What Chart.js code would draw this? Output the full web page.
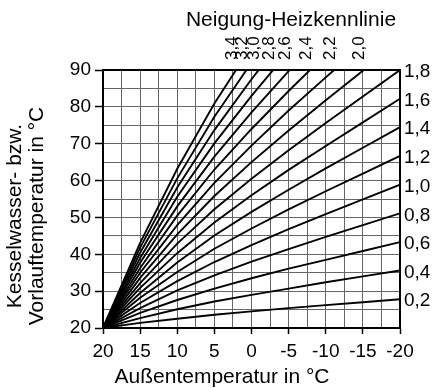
<!DOCTYPE html>
<html>
<head>
<meta charset="utf-8">
<script src="https://cdn.jsdelivr.net/npm/chart.js@4.4.1/dist/chart.umd.min.js"></script>
<style>
  html, body { margin: 0; padding: 0; background: #fff; }
  #wrap { width: 437px; height: 388px; }
</style>
</head>
<body>
<div id="wrap"><canvas id="chart" width="437" height="388"></canvas></div>
<script>
// outside temperature (°C) at which each curve was read
const outsideTemps = [20, 15, 10, 5, 0, -5, -10, -15, -20];

// flow temperature (°C) per curve
const flow_0_2 = [20, 21.4, 22.5, 23.6, 24.5, 25.4, 26.2, 27.0, 27.8];
const flow_0_4 = [20, 22.7, 25.1, 27.2, 29.0, 30.7, 32.4, 34.0, 35.6];
const flow_0_6 = [20, 24.1, 27.6, 30.7, 33.5, 36.1, 38.5, 40.9, 43.3];
const flow_0_8 = [20, 25.4, 30.2, 34.3, 38.0, 41.4, 44.7, 47.9, 51.1];
const flow_1_0 = [20, 26.8, 32.7, 37.9, 42.5, 46.8, 50.9, 54.9, 58.9];
const flow_1_2 = [20, 28.2, 35.2, 41.5, 47.0, 52.2, 57.1, 61.9, 66.7];
const flow_1_4 = [20, 29.5, 37.8, 45.1, 51.5, 57.5, 63.3, 68.9, 74.5];
const flow_1_6 = [20, 30.9, 40.3, 48.6, 56.0, 62.9, 69.4, 75.8, 82.2];
const flow_1_8 = [20, 32.2, 42.9, 52.2, 60.5, 68.2, 75.6, 82.8, 90.0];
const flow_2_0 = [20, 33.6, 45.4, 55.8, 65.0, 73.6, 81.8, 89.8, 97.8];
const flow_2_2 = [20, 35.0, 47.9, 59.4, 69.5, 79.0, 88.0, 96.8];
const flow_2_4 = [20, 36.3, 50.5, 63.0, 74.0, 84.3, 94.2];
const flow_2_6 = [20, 37.7, 53.0, 66.5, 78.5, 89.7, 100.3];
const flow_2_8 = [20, 39.0, 55.6, 70.1, 83.0, 95.0];
const flow_3_0 = [20, 40.4, 58.1, 73.7, 87.5, 100.4];
const flow_3_2 = [20, 41.8, 60.6, 77.3, 92.0];
const flow_3_4 = [20, 43.1, 63.2, 80.9, 96.5];

const curveLabels = ['0,2', '0,4', '0,6', '0,8', '1,0', '1,2', '1,4', '1,6', '1,8',
                     '2,0', '2,2', '2,4', '2,6', '2,8', '3,0', '3,2', '3,4'];
const curveValues = [flow_0_2, flow_0_4, flow_0_6, flow_0_8, flow_1_0, flow_1_2, flow_1_4, flow_1_6, flow_1_8,
                     flow_2_0, flow_2_2, flow_2_4, flow_2_6, flow_2_8, flow_3_0, flow_3_2, flow_3_4];

// curves from 2,0 upward leave the plot through the top and are labelled there
const rightLabelled = ['0,2', '0,4', '0,6', '0,8', '1,0', '1,2', '1,4', '1,6', '1,8'];

const FONT = '"Liberation Sans", Arial, sans-serif';

let datasets = curveValues.map((vals, i) => ({
  label: curveLabels[i],
  data: vals.map((v, j) => ({ x: outsideTemps[j], y: v })),
  borderColor: '#000',
  borderWidth: 1.9,
  pointRadius: 0,
  tension: 0,
  fill: false,
}));

let labelsPlugin = {
  id: 'curveLabels',
  afterDatasetsDraw(chart) {
    const { ctx, chartArea } = chart;
    // frame around the plot
    ctx.save();
    ctx.strokeStyle = '#000';
    ctx.lineWidth = 2;
    ctx.strokeRect(chartArea.left, chartArea.top, chartArea.right - chartArea.left, chartArea.bottom - chartArea.top);
    ctx.restore();
  },
  afterDraw(chart) {
    const { ctx, chartArea, scales } = chart;
    const xs = scales.x, ys = scales.y;
    ctx.save();
    ctx.fillStyle = '#000';

    // title above the plot
    ctx.font = '21px ' + FONT;
    ctx.textAlign = 'center';
    ctx.textBaseline = 'middle';
    ctx.fillText('Neigung-Heizkennlinie', 291, 20);

    // axis titles
    ctx.fillText('Außentemperatur in °C', 222, 377);
    ctx.save();
    ctx.translate(15, 216);
    ctx.rotate(-Math.PI / 2);
    ctx.fillText('Kesselwasser- bzw.', 0, 0);
    ctx.fillText('Vorlauftemperatur in °C', 0, 22);
    ctx.restore();

    // labels at the right end
    ctx.font = '19px ' + FONT;
    ctx.textAlign = 'left';
    chart.data.datasets.forEach((ds) => {
      if (!rightLabelled.includes(ds.label)) return;
      const last = ds.data[ds.data.length - 1];
      ctx.fillText(ds.label, chartArea.right + 4, ys.getPixelForValue(last.y) + 2);
    });

    // rotated labels where the steep curves hit the top
    ctx.font = '17px ' + FONT;
    const yMax = ys.max;
    chart.data.datasets.forEach((ds) => {
      if (rightLabelled.includes(ds.label)) return;
      const pts = ds.data;
      let xv = null;
      for (let k = 1; k < pts.length; k++) {
        if (pts[k].y >= yMax) {
          const t = (yMax - pts[k - 1].y) / (pts[k].y - pts[k - 1].y);
          xv = pts[k - 1].x + t * (pts[k].x - pts[k - 1].x);
          break;
        }
      }
      if (xv === null) return;
      const px = xs.getPixelForValue(xv) - 4;
      ctx.save();
      ctx.translate(px, chartArea.top - 10);
      ctx.rotate(-Math.PI / 2);
      ctx.textAlign = 'left';
      ctx.textBaseline = 'middle';
      ctx.fillText(ds.label, 0, 0);
      ctx.restore();
    });
    ctx.restore();
  }
};

new Chart(document.getElementById('chart'), {
  type: 'line',
  data: { datasets: datasets },
  options: {
    responsive: false,
    animation: false,
    devicePixelRatio: 1,
    layout: { padding: { left: 0, right: 37, top: 70, bottom: 0 } },
    plugins: {
      legend: { display: false },
      tooltip: { enabled: false },
    },
    scales: {
      x: {
        type: 'linear',
        reverse: true,
        min: -20,
        max: 20,
        afterFit(scale) { scale.height = 60; },
        ticks: {
          stepSize: 2.5,
          autoSkip: false,
          maxRotation: 0,
          padding: 6,
          color: '#000',
          font: { family: FONT, size: 19 },
          callback: (v) => (v % 5 === 0 ? String(v) : ''),
        },
        grid: {
          color: '#666',
          lineWidth: 1,
          tickLength: 6,
          tickColor: (c) => (c.tick && c.tick.value % 5 === 0 ? '#000' : 'rgba(0,0,0,0)'),
          tickWidth: 1.5,
        },
        border: { color: '#000', width: 2 },
      },
      y: {
        min: 20,
        max: 90,
        afterFit(scale) { scale.width = 103; },
        ticks: {
          stepSize: 5,
          autoSkip: false,
          padding: 4,
          color: '#000',
          font: { family: FONT, size: 19 },
          callback: (v) => (v % 10 === 0 ? String(v) : ''),
        },
        grid: {
          color: '#666',
          lineWidth: 1,
          tickLength: 8,
          tickColor: (c) => (c.tick && c.tick.value % 10 === 0 ? '#000' : 'rgba(0,0,0,0)'),
          tickWidth: 1.5,
        },
        border: { color: '#000', width: 2 },
      },
    },
  },
  plugins: [labelsPlugin],
});
</script>
</body>
</html>
